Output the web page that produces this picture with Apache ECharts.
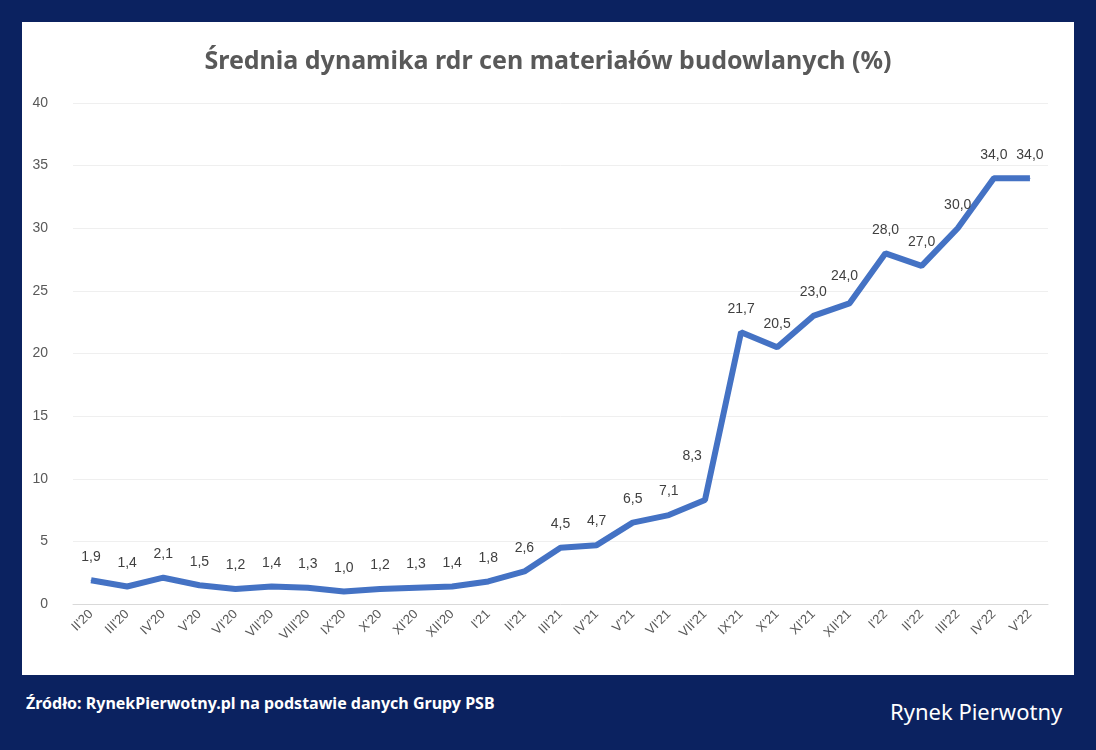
<!DOCTYPE html>
<html><head><meta charset="utf-8">
<script src="https://cdn.jsdelivr.net/npm/echarts@6/dist/echarts.min.js"></script>
<style>
html,body{margin:0;padding:0;background:#0b2260;width:1096px;height:750px;overflow:hidden;font-family:Poppins,"Noto Sans",sans-serif}
#panel{position:absolute;left:22px;top:22px;width:1052px;height:653px;background:#fff}
#c{position:absolute;left:0;top:0;width:1052px;height:653px}
#src{position:absolute;left:26px;top:692px;color:#fff;font-weight:bold;font-size:16px;font-family:"Noto Sans",sans-serif}
#logo{position:absolute;left:890px;top:696px;color:#fff;font-size:22px;font-family:"Noto Sans",sans-serif}
</style></head><body>
<div id="panel"><div id="c"></div></div>
<div id="src">Źródło: RynekPierwotny.pl na podstawie danych Grupy PSB</div>
<div id="logo">Rynek Pierwotny</div>
<script>
const categories=["II'20","III'20","IV'20","V'20","VI'20","VII'20","VIII'20","IX'20","X'20","XI'20","XII'20","I'21","II'21","III'21","IV'21","V'21","VI'21","VII'21","IX'21","X'21","XI'21","XII'21","I'22","II'22","III'22","IV'22","V'22"];
const values=[1.9,1.4,2.1,1.5,1.2,1.4,1.3,1.0,1.2,1.3,1.4,1.8,2.6,4.5,4.7,6.5,7.1,8.3,21.7,20.5,23.0,24.0,28.0,27.0,30.0,34.0,34.0];
const yTicks={min:0,max:40,interval:5};
const labelPos={17:[-22,-50],21:[-18,-34]};
const seriesData=values.map((v,i)=>labelPos[i]?{value:v,label:{show:true,position:labelPos[i]}}:v);
const chart=echarts.init(document.getElementById('c'));
chart.setOption({
 title:{text:'Średnia dynamika rdr cen materiałów budowlanych (%)',left:'center',top:22,textStyle:{color:'#595959',fontSize:25,fontWeight:'bold',fontFamily:'"Noto Sans",sans-serif'}},
 grid:{left:51,right:26,top:81,bottom:71},
 xAxis:{type:'category',data:categories,boundaryGap:true,axisTick:{show:false},axisLine:{lineStyle:{color:'#d9d9d9'}},
  axisLabel:{rotate:45,color:'#595959',fontSize:13,interval:0}},
 yAxis:{type:'value',min:yTicks.min,max:yTicks.max,interval:yTicks.interval,axisLabel:{color:'#595959',fontSize:14,margin:25},
  splitLine:{lineStyle:{color:'#efefef'}}},
 series:[{type:'line',data:seriesData,symbol:'circle',symbolSize:1,showSymbol:true,itemStyle:{color:'#4472c4'},lineStyle:{color:'#4472c4',width:6},
  label:{show:true,position:'top',distance:16,color:'#404040',fontSize:14,formatter:p=>Number(p.value).toFixed(1).replace('.',',')},
  labelLayout:{hideOverlap:false}}]
});
</script></body></html>
